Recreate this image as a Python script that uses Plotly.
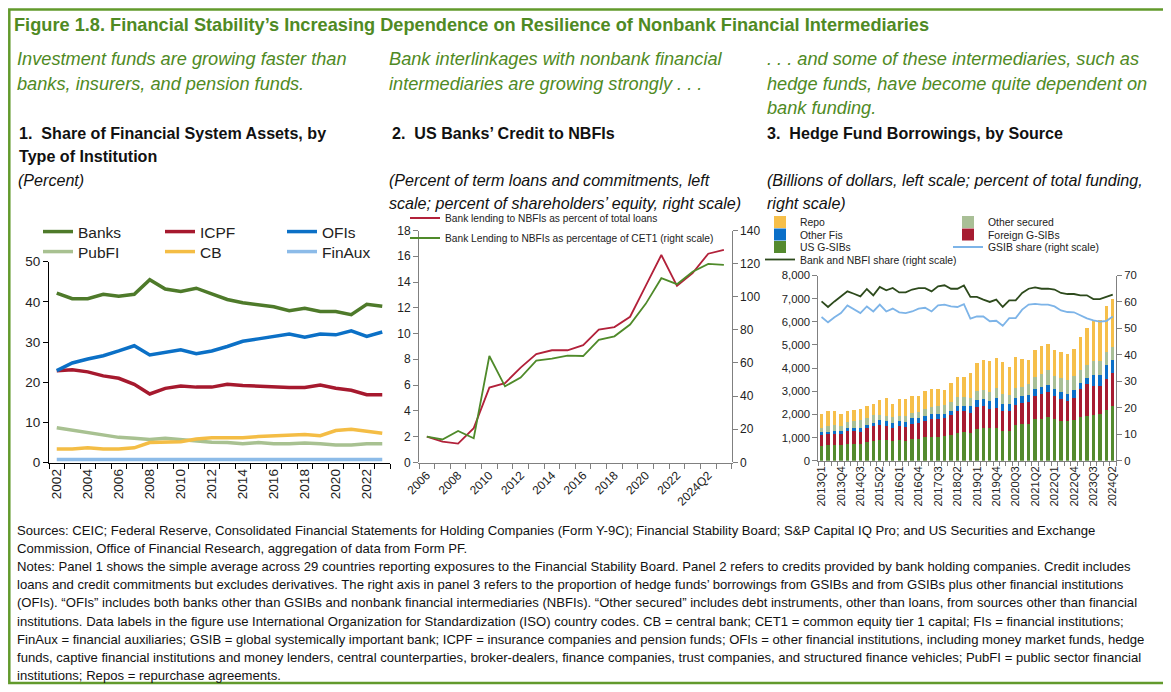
import plotly.graph_objects as go

# The page places the figure 8 px from the top-left corner of the window,
# so the figure is sized to fill the rest of the 1171x692 window.
OFF = 8
W, H = 1171 - OFF, 692 - OFF

# ---------------- Data ----------------
# Panel 1: share of financial system assets (percent)
years1 = list(range(2002, 2024))
banks = [42.2, 40.8, 40.8, 41.9, 41.4, 41.9, 45.5, 43.2, 42.6, 43.4, 42.0, 40.6, 39.8, 39.2, 38.8, 37.8, 38.4, 37.6, 37.6, 36.8, 39.4, 38.9]
icpf = [22.9, 23.1, 22.6, 21.6, 21.0, 19.5, 17.1, 18.5, 19.1, 18.8, 18.8, 19.5, 19.2, 19.0, 18.7, 18.7, 18.7, 19.3, 18.5, 18.0, 16.9, 16.9]
ofis = [22.9, 24.8, 25.8, 26.6, 27.8, 29.1, 26.8, 27.4, 28.1, 27.1, 27.8, 28.9, 30.2, 30.8, 31.3, 32.0, 31.2, 32.0, 31.8, 32.8, 31.4, 32.5]
pubfi = [8.7, 8.1, 7.3, 6.7, 6.3, 6.1, 5.8, 6.1, 5.7, 5.4, 5.1, 5.0, 4.7, 5.0, 4.7, 4.7, 4.9, 4.7, 4.4, 4.4, 4.7, 4.7]
cb = [3.4, 3.4, 3.7, 3.4, 3.4, 3.7, 5.0, 5.0, 5.2, 5.9, 6.2, 6.2, 6.2, 6.5, 6.7, 7.0, 7.0, 6.7, 8.0, 8.3, 7.7, 7.3]
finaux = [0.8, 0.8, 0.8, 0.7, 0.7, 0.8, 0.6, 0.8, 0.8, 0.6, 0.6, 0.6, 0.6, 0.6, 0.6, 0.6, 0.7, 0.8, 0.6, 0.7, 0.6, 0.8]
p1_tick_years = list(range(2002, 2024, 2))

# Panel 2: US banks' credit to NBFIs
p2_points = list(range(20))
p2_tick_labels = ["2006", "2008", "2010", "2012", "2014", "2016", "2018", "2020", "2022", "2024Q2"]
lending_pct_loans = [2.0, 1.6, 1.45, 2.65, 5.8, 6.15, 7.35, 8.4, 8.7, 8.7, 9.1, 10.3, 10.5, 11.3, 13.7, 16.1, 13.7, 14.7, 16.2, 16.5]
lending_pct_cet1 = [15.5, 13.8, 18.9, 14.5, 64.2, 45.9, 51.2, 61.4, 62.6, 64.4, 64.2, 74.0, 76.1, 83.2, 95.7, 111.2, 107.6, 115.1, 119.8, 119.2]

# Panel 3: hedge fund borrowings by source (billions of dollars)
quarters = [f"{y}Q{q}" for y in range(2013, 2025) for q in range(1, 5)][:46]
us_gsibs = [650, 660, 675, 675, 730, 720, 720, 790, 835, 875, 890, 850, 890, 860, 935, 950, 1005, 1005, 1035, 1050, 1105, 1205, 1220, 1190, 1365, 1410, 1395, 1410, 1280, 1295, 1525, 1580, 1595, 1810, 1795, 1870, 1780, 1710, 1710, 1765, 1895, 1940, 1985, 2010, 2185, 2355]
foreign_gsibs = [450, 475, 490, 475, 550, 545, 515, 605, 660, 665, 620, 560, 605, 605, 660, 660, 720, 805, 775, 775, 850, 935, 920, 850, 935, 945, 860, 860, 860, 845, 890, 905, 950, 990, 1105, 1090, 1020, 950, 875, 965, 1195, 1365, 1250, 1225, 1335, 1440]
other_fis = [120, 115, 115, 115, 115, 145, 175, 145, 145, 200, 200, 200, 215, 215, 230, 215, 215, 190, 200, 200, 200, 215, 215, 315, 330, 305, 315, 445, 315, 315, 300, 300, 285, 290, 290, 300, 290, 315, 315, 345, 270, 285, 460, 460, 605, 545]
other_secured = [200, 240, 260, 245, 285, 300, 330, 285, 330, 230, 230, 260, 230, 245, 245, 275, 315, 330, 345, 360, 390, 405, 405, 375, 370, 415, 405, 430, 445, 375, 430, 405, 475, 530, 545, 650, 560, 605, 575, 575, 550, 535, 600, 600, 575, 575]
repo = [590, 650, 600, 500, 475, 500, 515, 530, 500, 645, 750, 600, 705, 720, 745, 690, 745, 770, 735, 690, 790, 860, 860, 1065, 1210, 1295, 1320, 1310, 1355, 1220, 1340, 1190, 1065, 1150, 1205, 1135, 1120, 1120, 1125, 1190, 1420, 1620, 1795, 1795, 1980, 2085]
gsib_share = [54.3, 52.3, 54.2, 55.8, 58.7, 57.3, 55.8, 58.3, 56.4, 59.0, 56.4, 57.5, 56.1, 55.8, 56.4, 57.5, 57.8, 56.4, 58.7, 59.0, 58.3, 58.1, 59.2, 53.7, 54.5, 54.5, 52.7, 52.9, 51.0, 53.9, 53.9, 57.1, 59.0, 59.3, 59.0, 59.0, 58.3, 56.8, 56.2, 56.1, 54.8, 53.8, 53.0, 52.6, 52.8, 54.5]
bank_nbfi_share = [60.2, 58.1, 60.2, 62.1, 64.0, 63.1, 62.1, 64.9, 62.5, 65.7, 64.4, 65.3, 63.6, 63.6, 64.7, 65.2, 65.2, 64.0, 65.9, 66.3, 65.0, 65.0, 66.2, 61.9, 61.9, 60.9, 60.0, 60.9, 58.1, 60.6, 60.6, 63.4, 65.0, 65.5, 65.0, 65.0, 64.7, 63.4, 63.0, 63.0, 62.5, 62.5, 61.1, 61.1, 62.1, 62.8]
p3_x = list(range(len(quarters)))

# ---------------- Styling ----------------
FONT = "Liberation Sans, Arial, sans-serif"
GREEN_TXT = "#4f8a24"
FRAME = "#629a2c"
AX = "#808080"


def px_x(x):
    """window pixel x -> paper fraction"""
    return (x - OFF) / W


def px_y(y):
    """window pixel y -> paper fraction"""
    return 1 - (y - OFF) / H


fig = go.Figure()

# Panel 1 traces
p1_series = [
    ("Banks", banks, "#4e7a2a", "legend"),
    ("ICPF", icpf, "#a6192e", "legend"),
    ("OFIs", ofis, "#0b70c6", "legend"),
    ("PubFI", pubfi, "#a8c191", "legend2"),
    ("CB", cb, "#f4bd45", "legend2"),
    ("FinAux", finaux, "#8cbbe8", "legend2"),
]
for name, vals, col, lg in p1_series:
    fig.add_trace(go.Scatter(x=years1, y=vals, name=name, mode="lines",
                             line=dict(color=col, width=3.5),
                             xaxis="x", yaxis="y", legend=lg))

# Panel 2 traces
fig.add_trace(go.Scatter(x=p2_points, y=lending_pct_loans, mode="lines",
                         name="Bank lending to NBFIs as percent of total loans",
                         line=dict(color="#b2213a", width=1.8),
                         xaxis="x2", yaxis="y2", legend="legend3"))
fig.add_trace(go.Scatter(x=p2_points, y=lending_pct_cet1, mode="lines",
                         name="Bank Lending to NBFIs as percentage of CET1 (right scale)",
                         line=dict(color="#4f8a2a", width=1.8),
                         xaxis="x2", yaxis="y3", legend="legend4"))

# Panel 3 bars (stacked bottom -> top)
bar_series = [
    ("US G-SIBs", us_gsibs, "#548a2e", "legend7", 1),
    ("Foreign G-SIBs", foreign_gsibs, "#a61c31", "legend6", 2),
    ("Other Fis", other_fis, "#0b6fc8", "legend6", 1),
    ("Other secured", other_secured, "#a9bf96", "legend5", 2),
    ("Repo", repo, "#f6bf4a", "legend5", 1),
]
for name, vals, col, lg, rank in bar_series:
    fig.add_trace(go.Bar(x=p3_x, y=vals, name=name, marker=dict(color=col, line=dict(width=0)),
                         xaxis="x3", yaxis="y4", legend=lg, legendrank=rank))
fig.add_trace(go.Scatter(x=p3_x, y=gsib_share, mode="lines", name="GSIB share (right scale)",
                         line=dict(color="#7db4e8", width=1.8), xaxis="x3", yaxis="y5",
                         legend="legend7", legendrank=2))
fig.add_trace(go.Scatter(x=p3_x, y=bank_nbfi_share, mode="lines", name="Bank and NBFI share (right scale)",
                         line=dict(color="#2d4a1c", width=1.8), xaxis="x3", yaxis="y5",
                         legend="legend8"))

tickfont1 = dict(family=FONT, size=13.5, color="#222")
tickfont2 = dict(family=FONT, size=12, color="#222")
tickfont3 = dict(family=FONT, size=11.3, color="#222")

layout = dict(
    width=W, height=H,
    margin=dict(l=0, r=0, t=0, b=0, autoexpand=False),
    paper_bgcolor="white", plot_bgcolor="white",
    barmode="stack", bargap=0.48,
    showlegend=True,
    # Panel 1
    xaxis=dict(domain=[px_x(49), px_x(390)], range=[2001.5, 2023.5], tickmode="array",
               tickvals=p1_tick_years, ticktext=[str(v) for v in p1_tick_years],
               tickangle=-90, ticks="", showline=True, linecolor="black", linewidth=1,
               showgrid=False, zeroline=False, tickfont=tickfont1,
               minor=dict(tick0=2001.5, dtick=1, ticks="outside", ticklen=5, tickcolor="black")),
    yaxis=dict(domain=[px_y(462.7), px_y(261.7)], range=[0, 50], dtick=10, ticks="outside",
               ticklen=5, tickcolor="black", showline=True, linecolor="black", linewidth=1,
               showgrid=False, zeroline=False, tickfont=tickfont1),
    # Panel 2
    xaxis2=dict(domain=[px_x(419), px_x(731.7)], range=[-0.5, 19.5], tickmode="array",
                tickvals=list(range(0, 20, 2)), ticktext=p2_tick_labels, tickangle=-45,
                ticks="", showline=True, linecolor=AX, linewidth=1, showgrid=False,
                zeroline=False, tickfont=tickfont2,
                minor=dict(tick0=-0.5, dtick=1, ticks="outside", ticklen=5, tickcolor=AX)),
    yaxis2=dict(domain=[px_y(462.3), px_y(230.5)], range=[0, 18], dtick=2, ticks="outside",
                ticklen=5, tickcolor=AX, showline=True, linecolor=AX, linewidth=1,
                showgrid=False, zeroline=False, tickfont=tickfont2, anchor="x2"),
    yaxis3=dict(range=[0, 140], dtick=20, ticks="outside", ticklen=5, tickcolor=AX,
                showline=True, linecolor=AX, linewidth=1, showgrid=False, zeroline=False,
                tickfont=tickfont2, overlaying="y2", side="right", anchor="x2"),
    # Panel 3
    xaxis3=dict(domain=[px_x(818.3), px_x(1116)], range=[-0.5, 45.5], tickmode="array",
                tickvals=p3_x[::3], ticktext=quarters[::3], tickangle=-90, ticks="",
                showline=True, linecolor=AX, linewidth=1, showgrid=False, zeroline=False,
                tickfont=tickfont3, anchor="y4",
                minor=dict(tick0=-0.5, dtick=1, ticks="outside", ticklen=4, tickcolor=AX)),
    yaxis4=dict(domain=[px_y(460.7), px_y(275.5)], range=[0, 8000], dtick=1000, tickformat=",",
                ticks="outside", ticklen=5, tickcolor=AX, showline=True, linecolor=AX,
                linewidth=1, showgrid=False, zeroline=False, tickfont=tickfont3, anchor="x3"),
    yaxis5=dict(range=[0, 70], dtick=10, ticks="outside", ticklen=5, tickcolor=AX,
                showline=True, linecolor=AX, linewidth=1, showgrid=False, zeroline=False,
                tickfont=tickfont3, overlaying="y4", side="right", anchor="x3"),
)


# Legends
def mk_legend(xpx, ypx, size, entrywidth):
    return dict(x=px_x(xpx), y=px_y(ypx), xanchor="left", yanchor="middle",
                orientation="h", font=dict(family=FONT, size=size, color="#222"),
                bgcolor="rgba(0,0,0,0)", borderwidth=0, entrywidth=entrywidth,
                entrywidthmode="pixels", tracegroupgap=0, itemclick=False,
                traceorder="normal")


layout["legend"] = mk_legend(38, 232, 15.5, 77)
layout["legend2"] = mk_legend(38, 252, 15.5, 77)
layout["legend3"] = mk_legend(405, 218, 10.2, 300)
layout["legend4"] = mk_legend(405, 238, 10.2, 300)
layout["legend5"] = mk_legend(760, 222, 10.4, 143)
layout["legend6"] = mk_legend(760, 234.5, 10.4, 143)
layout["legend7"] = mk_legend(760, 247, 10.4, 143)
layout["legend8"] = mk_legend(760, 259.5, 10.4, 260)

fig.update_layout(**layout)

# Frame
fig.add_shape(type="rect", xref="paper", yref="paper", x0=px_x(9.3), x1=px_x(1165),
              y0=px_y(683), y1=px_y(9.5), line=dict(color=FRAME, width=2.5))


def txt(x, y, s, size, color="#111", bold=False, italic=False):
    if bold:
        s = f"<b>{s}</b>"
    if italic:
        s = f"<i>{s}</i>"
    fig.add_annotation(x=px_x(x - 3), y=px_y(y), xref="paper", yref="paper", text=s,
                       showarrow=False, xanchor="left", yanchor="middle", align="left",
                       font=dict(family=FONT, size=size, color=color))


txt(15, 25, "Figure 1.8. Financial Stability’s Increasing Dependence on Resilience of Nonbank Financial Intermediaries",
    18.2, GREEN_TXT, bold=True)

sub1 = ["Investment funds are growing faster than", "banks, insurers, and pension funds."]
sub2 = ["Bank interlinkages with nonbank financial", "intermediaries are growing strongly . . ."]
sub3 = [". . . and some of these intermediaries, such as", "hedge funds, have become quite dependent on", "bank funding."]
for i, s in enumerate(sub1):
    txt(18, 59 + 24.5 * i, s, 18.2, GREEN_TXT, italic=True)
for i, s in enumerate(sub2):
    txt(390, 59 + 24.5 * i, s, 18.2, GREEN_TXT, italic=True)
for i, s in enumerate(sub3):
    txt(768, 59 + 24.5 * i, s, 18.2, GREEN_TXT, italic=True)

txt(20, 133, "1.  Share of Financial System Assets, by", 16.1, bold=True)
txt(20, 156, "Type of Institution", 16.1, bold=True)
txt(19, 180, "(Percent)", 16.1, italic=True)

txt(393, 133, "2.  US Banks’ Credit to NBFIs", 16.1, bold=True)
txt(390, 180, "(Percent of term loans and commitments, left", 16.1, italic=True)
txt(390, 203, "scale; percent of shareholders’ equity, right scale)", 16.1, italic=True)

txt(768, 133, "3.  Hedge Fund Borrowings, by Source", 16.1, bold=True)
txt(768, 180, "(Billions of dollars, left scale; percent of total funding,", 16.1, italic=True)
txt(768, 203, "right scale)", 16.1, italic=True)

notes = [
    "Sources: CEIC; Federal Reserve, Consolidated Financial Statements for Holding Companies (Form Y-9C); Financial Stability Board; S&P Capital IQ Pro; and US Securities and Exchange",
    "Commission, Office of Financial Research, aggregation of data from Form PF.",
    "Notes: Panel 1 shows the simple average across 29 countries reporting exposures to the Financial Stability Board. Panel 2 refers to credits provided by bank holding companies. Credit includes",
    "loans and credit commitments but excludes derivatives. The right axis in panel 3 refers to the proportion of hedge funds’ borrowings from GSIBs and from GSIBs plus other financial institutions",
    "(OFIs). “OFIs” includes both banks other than GSIBs and nonbank financial intermediaries (NBFIs). “Other secured” includes debt instruments, other than loans, from sources other than financial",
    "institutions. Data labels in the figure use International Organization for Standardization (ISO) country codes. CB = central bank; CET1 = common equity tier 1 capital; FIs = financial institutions;",
    "FinAux = financial auxiliaries; GSIB = global systemically important bank; ICPF = insurance companies and pension funds; OFIs = other financial institutions, including money market funds, hedge",
    "funds, captive financial institutions and money lenders, central counterparties, broker-dealers, finance companies, trust companies, and structured finance vehicles; PubFI = public sector financial",
    "institutions; Repos = repurchase agreements.",
]
for i, s in enumerate(notes):
    txt(18, 530.5 + 18.1 * i, s, 13.1, "#111")

fig.write_html("out.html")
